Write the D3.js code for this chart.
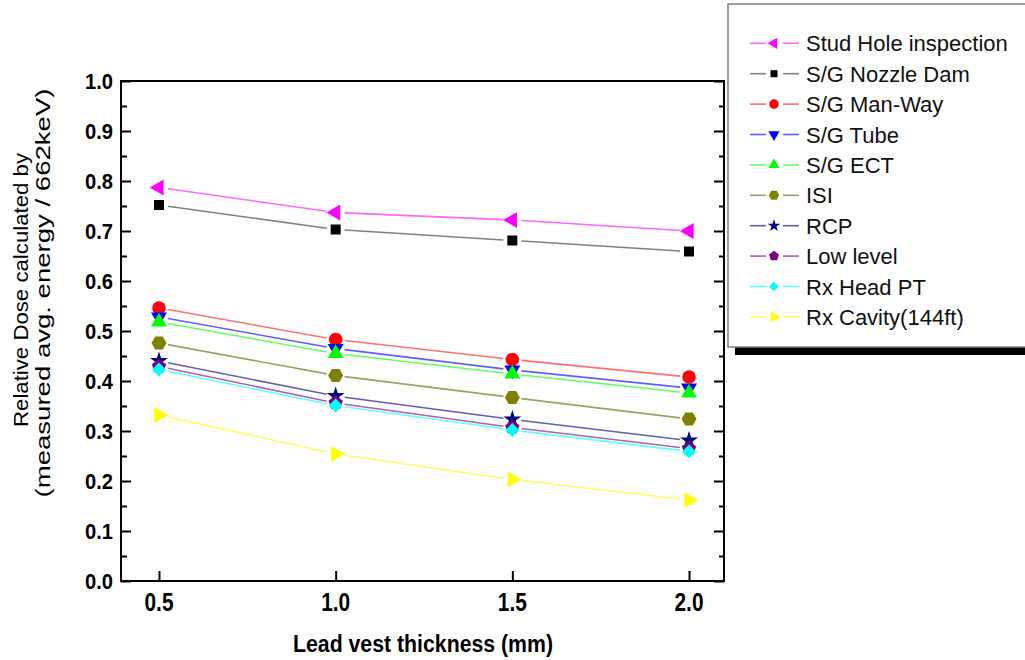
<!DOCTYPE html>
<html>
<head>
<meta charset="utf-8">
<script src="https://cdn.jsdelivr.net/npm/d3@7"></script>
<style>
  body { margin: 0; background: #fff; }
  svg { display: block; font-family: Arial, "Liberation Sans", sans-serif; }
</style>
</head>
<body>
<script>
// data
var thickness = [0.5, 1.0, 1.5, 2.0];
var studHole  = [0.787, 0.737, 0.722, 0.700];
var nozzleDam = [0.752, 0.703, 0.681, 0.659];
var manWay    = [0.546, 0.483, 0.443, 0.408];
var sgTube    = [0.528, 0.465, 0.422, 0.386];
var sgEct     = [0.518, 0.455, 0.414, 0.376];
var isi       = [0.476, 0.411, 0.367, 0.324];
var rcp       = [0.440, 0.370, 0.323, 0.281];
var lowLevel  = [0.429, 0.356, 0.307, 0.265];
var rxHead    = [0.423, 0.351, 0.302, 0.259];
var rxCavity  = [0.332, 0.254, 0.203, 0.162];

var seriesNames = ['Stud Hole inspection', 'S/G Nozzle Dam', 'S/G Man-Way', 'S/G Tube', 'S/G ECT',
                   'ISI', 'RCP', 'Low level', 'Rx Head PT', 'Rx Cavity(144ft)'];
var seriesValues = [studHole, nozzleDam, manWay, sgTube, sgEct, isi, rcp, lowLevel, rxHead, rxCavity];
var markerColors = ['#ff00ff', '#000000', '#ff0000', '#0000ff', '#00ff00', '#808000', '#000080', '#800080', '#00ffff', '#ffff00'];
var lineColors   = ['#ff66ff', '#808080', '#ff7070', '#6060ff', '#60ff60', '#a0a060', '#6060b0', '#b060b0', '#60ffff', '#ffff60'];
var shapes = ['triLeft', 'square', 'circle', 'triDown', 'triUp', 'hexagon', 'star', 'pentagon', 'diamond', 'triRight'];

var xTicks = [0.5, 1.0, 1.5, 2.0];
var yTicks = [0, 0.1, 0.2, 0.3, 0.4, 0.5, 0.6, 0.7, 0.8, 0.9, 1.0];
var yMinorTicks = [0.05, 0.15, 0.25, 0.35, 0.45, 0.55, 0.65, 0.75, 0.85, 0.95];

var W = 1025, H = 660;
var plotL = 121, plotR = 724, plotT = 81, plotB = 581;

var svg = d3.select('body').append('svg').attr('width', W).attr('height', H);

var x = d3.scaleLinear().domain([0.3925, 2.099]).range([plotL, plotR]);
var y = d3.scaleLinear().domain([0, 1]).range([plotB, plotT]);

// polygon helper for hexagon / pentagon
function polygon(n, r, rot){
  var p = d3.path();
  for(var i = 0; i < n; i++){
    var a = rot + i * 2 * Math.PI / n;
    var px = r * Math.sin(a), py = -r * Math.cos(a);
    if(i === 0) p.moveTo(px, py); else p.lineTo(px, py);
  }
  p.closePath();
  return p.toString();
}

function markerPath(shape, k){
  // k = scale factor (1 for plot, smaller for legend)
  switch(shape){
    case 'triLeft': case 'triDown': case 'triUp': case 'triRight':
      return d3.symbol(d3.symbolTriangle, 110 * k * k)();
    case 'square': return d3.symbol(d3.symbolSquare, 100 * k * k)();
    case 'circle': return d3.symbol(d3.symbolCircle, 145 * k * k)();
    case 'star': return d3.symbol(d3.symbolStar, 100 * k * k)();
    case 'diamond': return d3.symbol(d3.symbolSquare, 95 * k * k)();
    case 'hexagon': return polygon(6, 7.5 * k, Math.PI / 6);
    case 'pentagon': return polygon(5, 7.5 * k, 0);
  }
}
function markerRot(shape){
  if(shape === 'triLeft') return -90;
  if(shape === 'triRight') return 90;
  if(shape === 'triDown') return 180;
  if(shape === 'diamond') return 45;
  return 0;
}

// plot frame
svg.append('rect')
  .attr('x', plotL).attr('y', plotT)
  .attr('width', plotR - plotL).attr('height', plotB - plotT)
  .attr('fill', 'none').attr('stroke', '#000').attr('stroke-width', 2);

// axes with inward ticks
function cleanAxis(g){
  g.select('.domain').remove();
  g.selectAll('line').attr('stroke-width', 2);
}
svg.append('g').attr('transform', 'translate(' + plotL + ',0)')
  .call(d3.axisRight(y).tickValues(yTicks).tickSize(10).tickFormat(''))
  .call(cleanAxis);
svg.append('g').attr('transform', 'translate(' + plotL + ',0)')
  .call(d3.axisRight(y).tickValues(yMinorTicks).tickSize(6).tickFormat(''))
  .call(cleanAxis);
svg.append('g').attr('transform', 'translate(' + plotR + ',0)')
  .call(d3.axisLeft(y).tickValues(yTicks).tickSize(10).tickFormat(''))
  .call(cleanAxis);
svg.append('g').attr('transform', 'translate(' + plotR + ',0)')
  .call(d3.axisLeft(y).tickValues(yMinorTicks).tickSize(5).tickFormat(''))
  .call(cleanAxis);
svg.append('g').attr('transform', 'translate(0,' + plotB + ')')
  .call(d3.axisTop(x).tickValues(xTicks).tickSize(10).tickFormat(''))
  .call(cleanAxis);

// tick labels
svg.selectAll('.ylab').data(yTicks).enter().append('text')
  .attr('x', 113).attr('y', function(d){ return y(d) + 8; })
  .attr('text-anchor', 'end')
  .attr('font-size', 22).attr('font-weight', 'bold')
  .attr('textLength', 28).attr('lengthAdjust', 'spacingAndGlyphs')
  .text(function(d){ return d.toFixed(1); });

svg.selectAll('.xlab').data(xTicks).enter().append('text')
  .attr('x', function(d){ return x(d); }).attr('y', 611)
  .attr('text-anchor', 'middle')
  .attr('font-size', 25).attr('font-weight', 'bold')
  .attr('textLength', 29).attr('lengthAdjust', 'spacingAndGlyphs')
  .text(function(d){ return d.toFixed(1); });

// axis titles
svg.append('text')
  .attr('x', 423).attr('y', 652).attr('text-anchor', 'middle')
  .attr('font-size', 23).attr('font-weight', 'bold')
  .attr('textLength', 260).attr('lengthAdjust', 'spacingAndGlyphs')
  .text('Lead vest thickness (mm)');

svg.append('text')
  .attr('transform', 'translate(28,290) rotate(-90)')
  .attr('text-anchor', 'middle').attr('font-size', 21)
  .attr('textLength', 274).attr('lengthAdjust', 'spacingAndGlyphs')
  .text('Relative Dose calculated by');
svg.append('text')
  .attr('transform', 'translate(50,293) rotate(-90)')
  .attr('text-anchor', 'middle').attr('font-size', 21)
  .attr('textLength', 409).attr('lengthAdjust', 'spacingAndGlyphs')
  .text('(measured avg. energy / 662keV)');

// series: line segments with gaps around markers, then markers
var gap = 9;
var plot = svg.append('g');
seriesValues.forEach(function(vals, si){
  var pts = vals.map(function(v, i){ return [x(thickness[i]), y(v)]; });
  var g = plot.append('g');
  for(var i = 0; i < pts.length - 1; i++){
    var a = pts[i], b = pts[i + 1];
    var dx = b[0] - a[0], dy = b[1] - a[1], len = Math.sqrt(dx * dx + dy * dy);
    var ux = dx / len, uy = dy / len;
    g.append('line')
      .attr('x1', a[0] + ux * gap).attr('y1', a[1] + uy * gap)
      .attr('x2', b[0] - ux * gap).attr('y2', b[1] - uy * gap)
      .attr('stroke', lineColors[si]).attr('stroke-width', 1.6);
  }
});
seriesValues.forEach(function(vals, si){
  plot.append('g').selectAll('path').data(vals).enter().append('path')
    .attr('d', markerPath(shapes[si], 1))
    .attr('transform', function(d, i){
      return 'translate(' + x(thickness[i]) + ',' + y(d) + ') rotate(' + markerRot(shapes[si]) + ')';
    })
    .attr('fill', markerColors[si]);
});

// legend
var legend = svg.append('g');
legend.append('rect').attr('x', 735).attr('y', 347).attr('width', 300).attr('height', 8).attr('fill', '#000');
legend.append('rect').attr('x', 728).attr('y', 4).attr('width', 310).attr('height', 343)
  .attr('fill', '#fff').attr('stroke', '#808080').attr('stroke-width', 1.5);

var rows = legend.selectAll('.row').data(seriesNames).enter().append('g')
  .attr('transform', function(d, i){ return 'translate(0,' + (43.3 + 30.4 * i) + ')'; });
rows.append('line').attr('x1', 750).attr('x2', 766).attr('y1', 0).attr('y2', 0)
  .attr('stroke', function(d, i){ return lineColors[i]; }).attr('stroke-width', 1.6);
rows.append('line').attr('x1', 783).attr('x2', 799).attr('y1', 0).attr('y2', 0)
  .attr('stroke', function(d, i){ return lineColors[i]; }).attr('stroke-width', 1.6);
rows.append('path')
  .attr('d', function(d, i){ return markerPath(shapes[i], 0.7); })
  .attr('transform', function(d, i){ return 'translate(774,0) rotate(' + markerRot(shapes[i]) + ')'; })
  .attr('fill', function(d, i){ return markerColors[i]; });
rows.append('text').attr('x', 806).attr('y', 8)
  .attr('font-size', 22).attr('fill', '#111')
  .text(function(d){ return d; });
</script>
</body>
</html>
